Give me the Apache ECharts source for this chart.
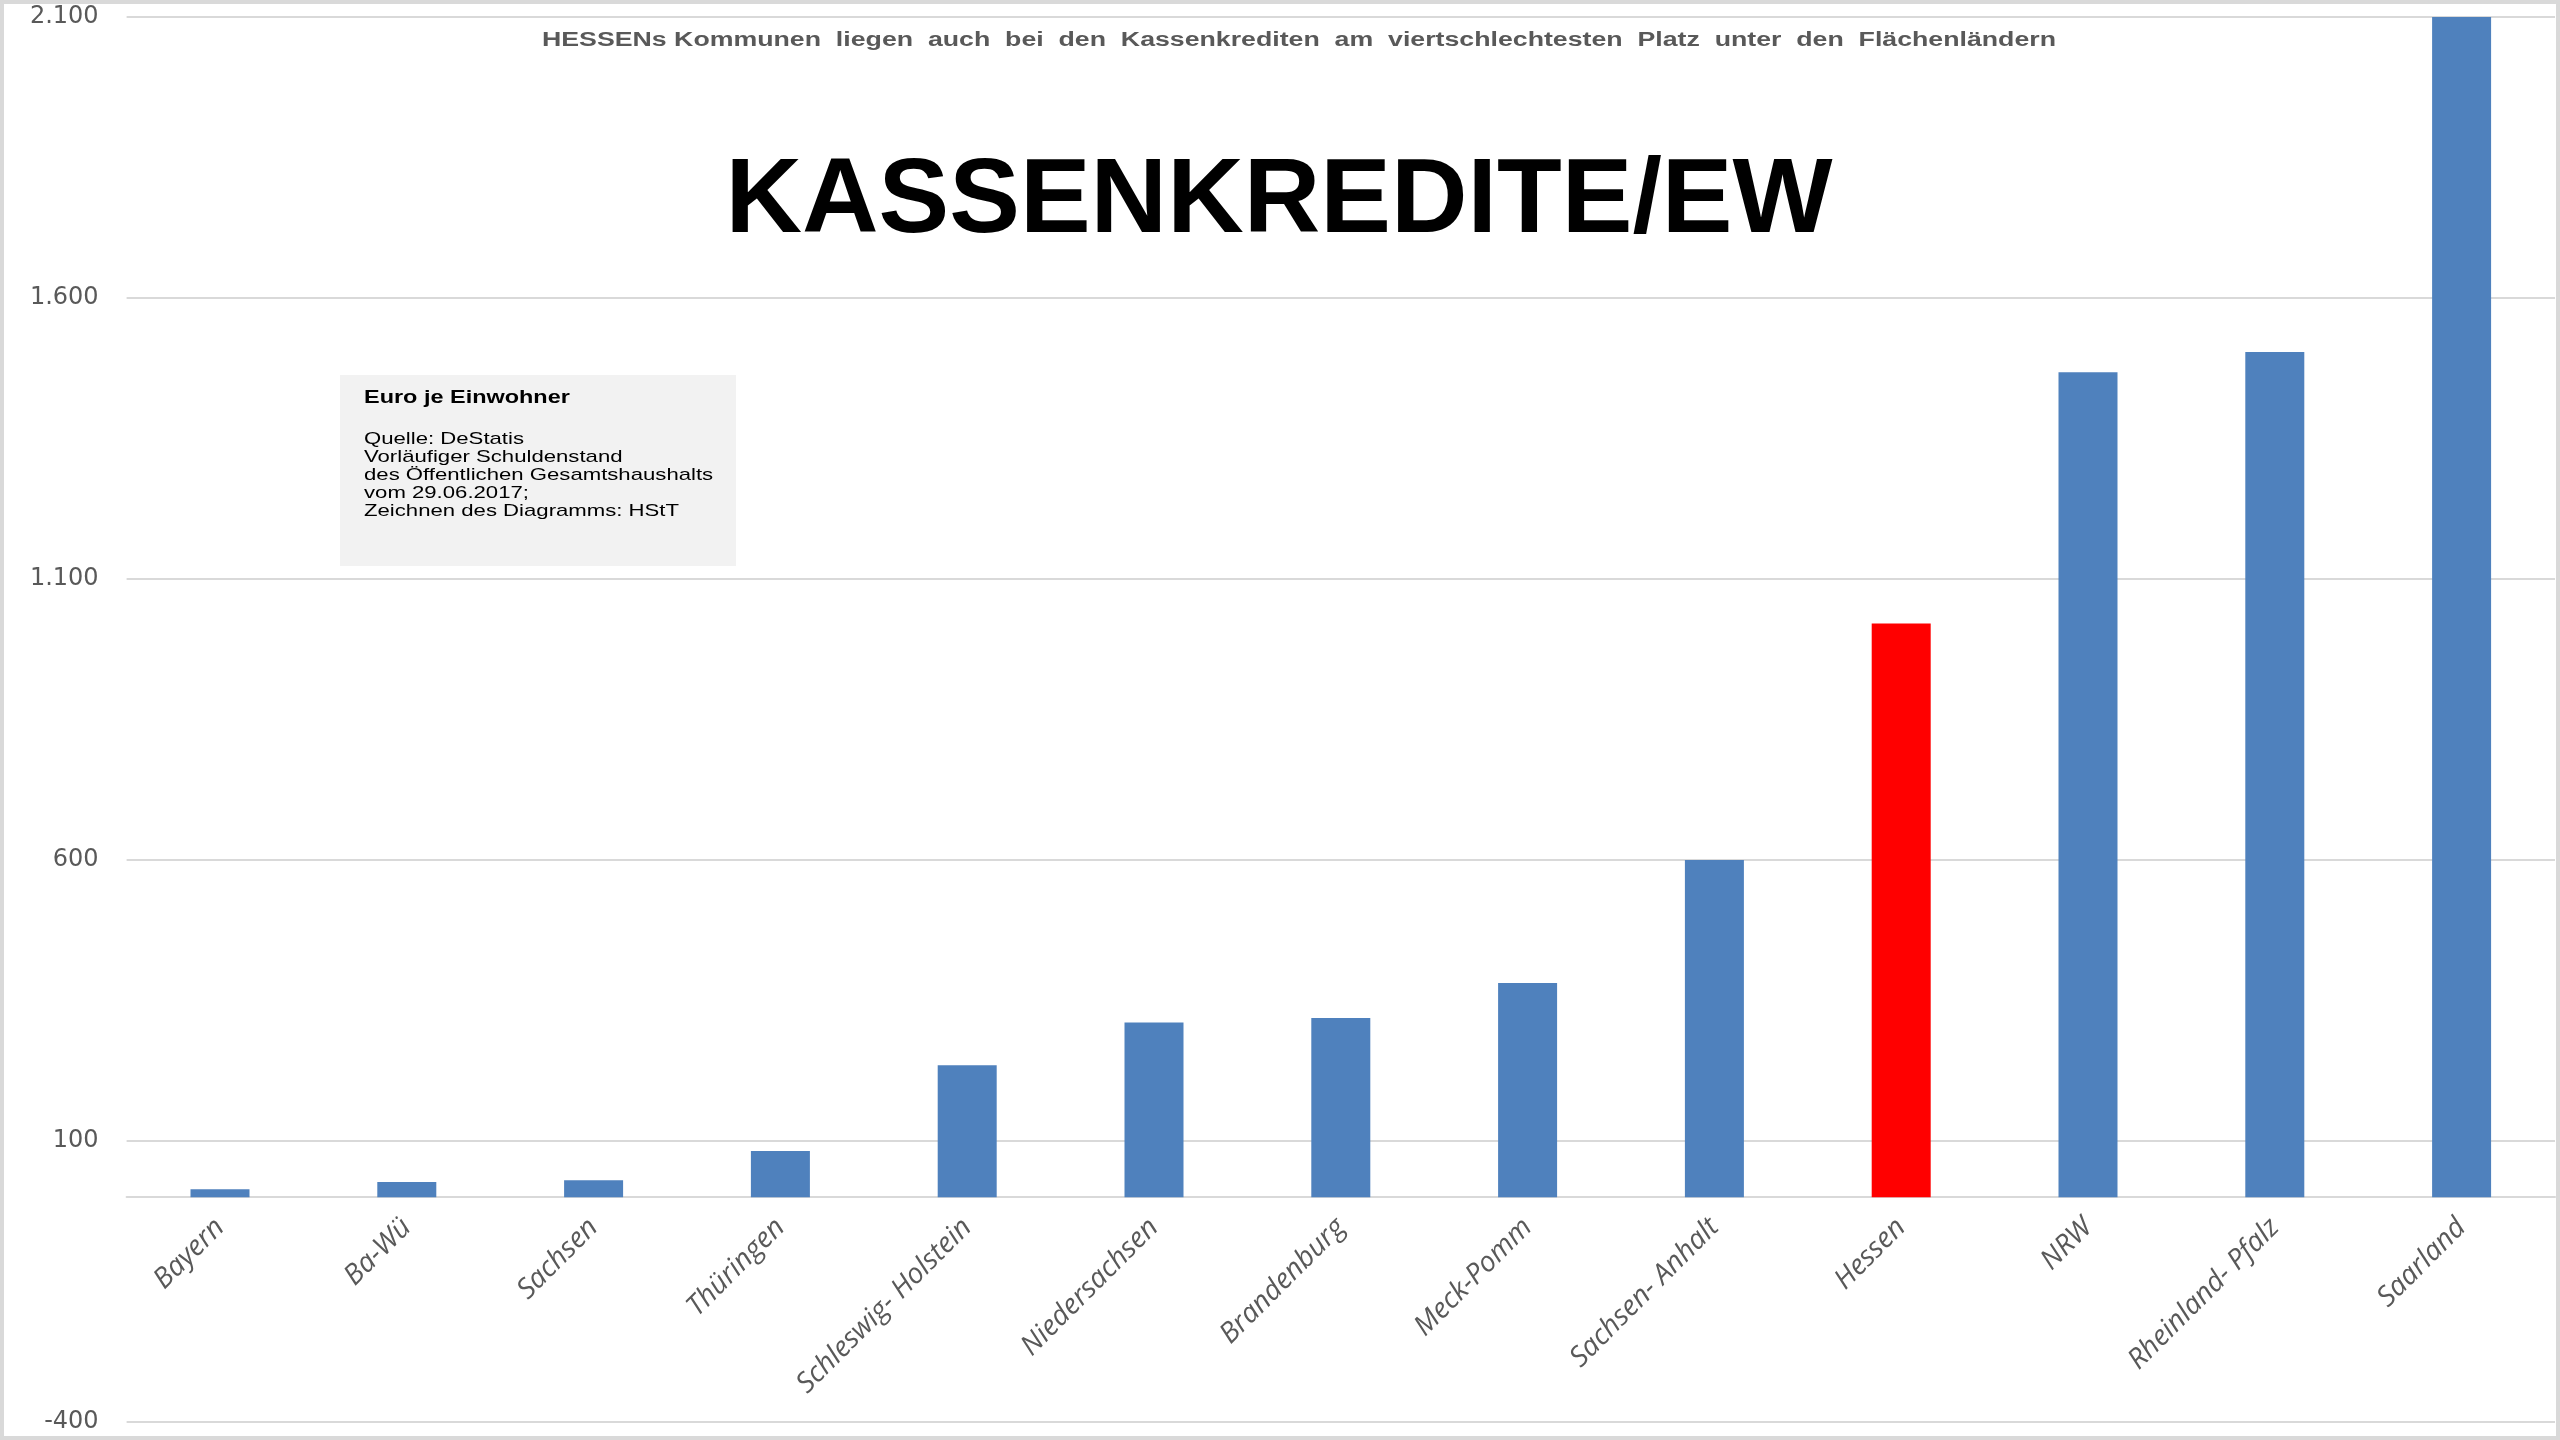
<!DOCTYPE html>
<html>
<head>
<meta charset="utf-8">
<script src="https://cdn.jsdelivr.net/npm/echarts@6/dist/echarts.min.js"></script>
<style>
html,body{margin:0;padding:0;background:#fff;}
#chart{width:2560px;height:1440px;}
</style>
</head>
<body>
<div id="chart"></div>
<script>
const categories = ['Bayern','Ba-Wü','Sachsen','Thüringen','Schleswig- Holstein','Niedersachsen','Brandenburg','Meck-Pomm','Sachsen- Anhalt','Hessen','NRW','Rheinland- Pfalz','Saarland'];
const values = [14, 27, 30, 82, 235, 311, 319, 381, 600, 1021, 1468, 1504, 2100];
const highlighted = 'Hessen';
const yTicks = { min: -400, max: 2100, interval: 500 };
const subtitleText = 'HESSENs Kommunen  liegen  auch  bei  den  Kassenkrediten  am  viertschlechtesten  Platz  unter  den  Flächenländern';
const mainTitle = 'KASSENKREDITE/EW';
const noteHeader = 'Euro je Einwohner';
const noteLines = ['Quelle: DeStatis','Vorläufiger Schuldenstand','des Öffentlichen Gesamtshaushalts','vom 29.06.2017;','Zeichnen des Diagramms: HStT'];

const measureCtx = document.createElement('canvas').getContext('2d');
function textWidth(t, font){ measureCtx.font = font; return measureCtx.measureText(t).width; }

const subFont = 'bold 20px "Liberation Sans", Arial, sans-serif';
const subScale = 1514 / textWidth(subtitleText, subFont);
const noteFont = '17px "Liberation Sans", Arial, sans-serif';
const noteScale = 160 / textWidth(noteLines[0], noteFont);
const noteHeadFont = 'bold 18px "Liberation Sans", Arial, sans-serif';

function fmt(v){ return String(v).replace(/\B(?=(\d{3})+(?!\d))/g, '.'); }

const gridTop = 17, gridBottom = 18, chartH = 1440;
// position of value 0 inside the grid, to place the category axis there
const plotH = chartH - gridTop - gridBottom;
const zeroOffset = plotH * (0 - yTicks.min) / (yTicks.max - yTicks.min);

const chart = echarts.init(document.getElementById('chart'));
chart.setOption({
  animation: false,
  backgroundColor: '#ffffff',
  grid: { left: 126.6, right: 5, top: gridTop, bottom: gridBottom, containLabel: false, outerBoundsMode: 'none' },
  xAxis: {
    type: 'category',
    data: categories,
    offset: -zeroOffset,
    axisLine: { show: true, onZero: false, lineStyle: { color: '#d9d9d9', width: 2 } },
    axisTick: { show: false },
    axisLabel: {
      rotate: 45, margin: 26, interval: 0,
      color: '#595959', fontSize: 28, fontStyle: 'italic',
      fontFamily: '"Open Sans", "DejaVu Sans", sans-serif'
    }
  },
  yAxis: {
    type: 'value',
    min: yTicks.min, max: yTicks.max, interval: yTicks.interval,
    axisLine: { show: false }, axisTick: { show: false },
    splitLine: { show: true, lineStyle: { color: '#d9d9d9', width: 2 } },
    axisLabel: {
      margin: 28, color: '#595959', fontSize: 24,
      fontFamily: '"DejaVu Sans", sans-serif',
      formatter: v => fmt(v)
    }
  },
  series: [{
    type: 'bar',
    barWidth: 59,
    data: values.map((v, i) => ({
      value: v,
      itemStyle: { color: categories[i] === highlighted ? '#ff0000' : '#4f81bd' }
    }))
  }],
  graphic: [
    { type: 'rect', silent: true, z: 100, shape: { x: 0, y: 0, width: 2560, height: 1440 },
      style: { fill: 'none', stroke: '#d9d9d9', lineWidth: 8 } },
    { type: 'text', x: 1299, y: 40, scaleX: subScale, z: 50,
      style: { text: subtitleText, font: subFont, fill: '#595959', textAlign: 'center', textVerticalAlign: 'middle' } },
    { type: 'text', x: 1279, y: 203, z: 50,
      style: { text: mainTitle, font: 'bold 106px "Liberation Sans", Arial, sans-serif', fill: '#000000', textAlign: 'center', textVerticalAlign: 'middle' } },
    { type: 'rect', shape: { x: 340, y: 375, width: 396, height: 191 }, z: 40,
      style: { fill: '#f2f2f2' } },
    { type: 'text', x: 364, y: 398, scaleX: noteScale, z: 50,
      style: { text: noteHeader, font: noteHeadFont, fill: '#000000', textAlign: 'left', textVerticalAlign: 'middle' } },
    { type: 'text', x: 364, y: 430, scaleX: noteScale, z: 50,
      style: { text: noteLines.join('\n'), font: noteFont, lineHeight: 18, fill: '#000000', textAlign: 'left', textVerticalAlign: 'top' } }
  ]
});
</script>
</body>
</html>
